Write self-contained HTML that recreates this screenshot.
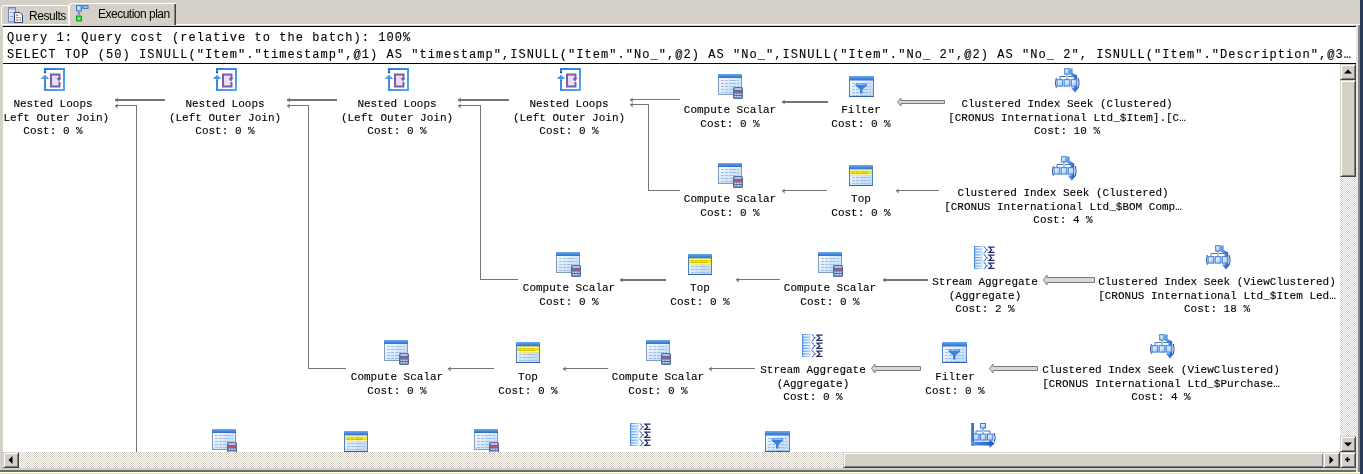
<!DOCTYPE html><html><head><meta charset="utf-8"><style>
html,body{margin:0;padding:0;}body{width:1363px;height:474px;overflow:hidden;position:relative;background:#D4D0C8;font-family:"Liberation Mono",monospace;}
.lbl{position:absolute;width:400px;text-align:center;font-family:"Liberation Mono",monospace;font-size:11.0px;line-height:13.5px;letter-spacing:0.0px;color:#000;white-space:pre;will-change:transform;-webkit-text-stroke:0.12px #000;}
.btn{position:absolute;background:#D4D0C8;box-sizing:border-box;border-top:1px solid #D4D0C8;border-left:1px solid #D4D0C8;border-right:1px solid #404040;border-bottom:1px solid #404040;box-shadow:inset 1px 1px 0 #fff, inset -1px -1px 0 #808080;}
.trk{position:absolute;background-color:#fff;background-image:repeating-conic-gradient(#D4D0C8 0 25%, #ffffff 0 50%);background-size:2px 2px;}
</style></head><body>
<svg width="0" height="0" style="position:absolute">
<defs>
<linearGradient id="hdr" x1="0" y1="0" x2="0" y2="1"><stop offset="0" stop-color="#6aaaf0"/><stop offset="1" stop-color="#2c6cc8"/></linearGradient>
<linearGradient id="tbody" x1="0" y1="0" x2="1" y2="1"><stop offset="0" stop-color="#ffffff"/><stop offset="1" stop-color="#b8d4f4"/></linearGradient>
<linearGradient id="blu" x1="0" y1="0" x2="1" y2="0"><stop offset="0" stop-color="#7ab8f4"/><stop offset="1" stop-color="#2a64c4"/></linearGradient>
<linearGradient id="boxg" x1="0" y1="0" x2="1" y2="1"><stop offset="0" stop-color="#ffffff"/><stop offset="1" stop-color="#8ec0f0"/></linearGradient>
</defs></svg>
<div style="position:absolute;left:1360px;top:0px;width:3px;height:474px;background:#263a5c"></div>
<div style="position:absolute;left:0px;top:473px;width:1360px;height:1px;background:#f2e88c"></div>
<div style="position:absolute;left:0px;top:472px;width:1360px;height:1px;background:#ffffff"></div>
<div style="position:absolute;left:0px;top:470px;width:1360px;height:2px;background:#6e6c68"></div>
<div style="position:absolute;left:1358px;top:24px;width:2px;height:448px;background:#8a8884"></div>
<div style="position:absolute;left:1px;top:5px;width:68px;height:20px;box-sizing:border-box;border:1px solid #fff;border-top-left-radius:3px;background:#D4D0C8"></div>
<div style="position:absolute;left:69px;top:3px;width:107px;height:23px;box-sizing:border-box;border-left:1px solid #fff;border-top:1px solid #fff;border-top-left-radius:3px;background:#D4D0C8"></div>
<div style="position:absolute;left:175px;top:4px;width:1px;height:21px;background:#404040"></div>
<div style="position:absolute;left:174px;top:4px;width:1px;height:21px;background:#808080"></div>
<div style="position:absolute;left:176px;top:24px;width:1184px;height:1px;background:#fff"></div>
<div style="position:absolute;left:29px;top:8px;font-family:'Liberation Sans',sans-serif;font-size:12px;letter-spacing:-0.45px;line-height:16px;color:#000;will-change:transform">Results</div>
<div style="position:absolute;left:98px;top:6px;font-family:'Liberation Sans',sans-serif;font-size:12px;letter-spacing:-0.5px;line-height:16px;color:#000;will-change:transform">Execution plan</div>
<svg style="position:absolute;left:8px;top:7px;overflow:visible" width="16" height="16" viewBox="0 0 16 16"><defs><linearGradient id="tw" x1="0" y1="0" x2="1" y2="1"><stop offset="0" stop-color="#ffffff"/><stop offset="1" stop-color="#9cc4ec"/></linearGradient></defs><rect x="0.5" y="0.5" width="7" height="14.5" fill="url(#tw)" stroke="#7a88b8"/><rect x="1" y="1" width="6" height="2" fill="#a8b8d8"/><rect x="1.5" y="5" width="5" height="1" fill="#a0b0d0"/><rect x="1.5" y="9" width="5" height="1" fill="#a0b0d0"/><path d="M6.5 5.5 H12 L14.5 8 V15.5 H6.5Z" fill="#ffffff" stroke="#3a3a80"/><rect x="8" y="7.5" width="2.5" height="1.2" fill="#f05a28"/><rect x="8" y="10" width="2.5" height="1.2" fill="#f05a28"/><rect x="8" y="12.5" width="2.5" height="1.2" fill="#f05a28"/><rect x="11.5" y="10" width="1.5" height="1.2" fill="#3aa03a"/><rect x="11.5" y="12.5" width="1.5" height="1.2" fill="#3aa03a"/></svg>
<svg style="position:absolute;left:76px;top:5px;overflow:visible" width="16" height="16" viewBox="0 0 16 16"><rect x="0.5" y="0.5" width="5" height="5.5" fill="#8cc0f8" stroke="#3a7ad8"/><rect x="1.5" y="1.5" width="2" height="3" fill="#d8ecff"/><rect x="7" y="0.5" width="5" height="3" fill="#8cc0f8" stroke="#3a7ad8"/><path d="M5.8 1.8 H7 M6.2 1 L5.8 1.8 L6.2 2.6" stroke="#2a9a9a" stroke-width="0.8" fill="none"/><path d="M3 7.5 V10.5 M2 8.5 L3 7.3 L4 8.5" stroke="#6a5aa8" stroke-width="1" fill="none"/><rect x="0.5" y="11" width="5" height="5" fill="#30d030" stroke="#18a018"/><rect x="1.8" y="12.3" width="2.4" height="2.4" fill="#90f090"/></svg>
<div style="position:absolute;left:3px;top:26px;width:1353px;height:1px;background:#000"></div>
<div style="position:absolute;left:3px;top:27px;width:1353px;height:36px;background:#fff"></div>
<div style="position:absolute;left:3px;top:63px;width:1353px;height:1px;background:#000"></div>
<div style="position:absolute;left:3px;top:64px;width:1337px;height:388px;background:#fff;overflow:hidden"></div>
<div style="position:absolute;left:1356px;top:26px;width:2px;height:446px;background:#e8e6e2"></div>
<div style="position:absolute;left:7px;top:30px;font-family:'Liberation Mono',monospace;font-size:12px;line-height:17px;letter-spacing:1.05px;color:#000;white-space:pre;will-change:transform;-webkit-text-stroke:0.12px #000">Query 1: Query cost (relative to the batch): 100%
SELECT TOP (50) ISNULL("Item"."timestamp",@1) AS "timestamp",ISNULL("Item"."No_",@2) AS "No_",ISNULL("Item"."No_ 2",@2) AS "No_ 2", ISNULL("Item"."Description",@3…</div>
<div style="position:absolute;left:3px;top:64px;width:1337px;height:388px;overflow:hidden;background:#fff"><div style="position:absolute;left:-3px;top:-64px;width:1363px;height:474px">
<div style="position:absolute;left:115px;top:99px;width:50px;height:2px;background:#767276"></div>
<svg style="position:absolute;left:114px;top:96.0px" width="6" height="8" viewBox="0 0 6 8"><path d="M1 4 L3.6 1.6 L3.6 6.4Z" fill="#767276"/></svg>
<div style="position:absolute;left:115px;top:105px;width:22px;height:1px;background:#767276"></div>
<svg style="position:absolute;left:114px;top:101.5px" width="6" height="8" viewBox="0 0 6 8"><path d="M1 4 L3.6 1.6 L3.6 6.4Z" fill="#767276"/></svg>
<div style="position:absolute;left:136px;top:105px;width:1px;height:347px;background:#767276"></div>
<div style="position:absolute;left:287px;top:99px;width:50px;height:2px;background:#767276"></div>
<svg style="position:absolute;left:286px;top:96.0px" width="6" height="8" viewBox="0 0 6 8"><path d="M1 4 L3.6 1.6 L3.6 6.4Z" fill="#767276"/></svg>
<div style="position:absolute;left:287px;top:105px;width:22px;height:1px;background:#767276"></div>
<svg style="position:absolute;left:286px;top:101.5px" width="6" height="8" viewBox="0 0 6 8"><path d="M1 4 L3.6 1.6 L3.6 6.4Z" fill="#767276"/></svg>
<div style="position:absolute;left:308px;top:105px;width:1px;height:264px;background:#767276"></div>
<div style="position:absolute;left:308px;top:368px;width:38px;height:1px;background:#767276"></div>
<div style="position:absolute;left:458px;top:99px;width:51px;height:2px;background:#767276"></div>
<svg style="position:absolute;left:457px;top:96.0px" width="6" height="8" viewBox="0 0 6 8"><path d="M1 4 L3.6 1.6 L3.6 6.4Z" fill="#767276"/></svg>
<div style="position:absolute;left:458px;top:105px;width:23px;height:1px;background:#767276"></div>
<svg style="position:absolute;left:457px;top:101.5px" width="6" height="8" viewBox="0 0 6 8"><path d="M1 4 L3.6 1.6 L3.6 6.4Z" fill="#767276"/></svg>
<div style="position:absolute;left:480px;top:105px;width:1px;height:175px;background:#767276"></div>
<div style="position:absolute;left:480px;top:279px;width:38px;height:1px;background:#767276"></div>
<div style="position:absolute;left:630px;top:99px;width:50px;height:1px;background:#767276"></div>
<svg style="position:absolute;left:629px;top:95.5px" width="6" height="8" viewBox="0 0 6 8"><path d="M1 4 L3.6 1.6 L3.6 6.4Z" fill="#767276"/></svg>
<div style="position:absolute;left:630px;top:104px;width:19px;height:1px;background:#767276"></div>
<svg style="position:absolute;left:629px;top:100.5px" width="6" height="8" viewBox="0 0 6 8"><path d="M1 4 L3.6 1.6 L3.6 6.4Z" fill="#767276"/></svg>
<div style="position:absolute;left:648px;top:104px;width:1px;height:87px;background:#767276"></div>
<div style="position:absolute;left:648px;top:190px;width:32px;height:1px;background:#767276"></div>
<div style="position:absolute;left:782px;top:101px;width:46px;height:2px;background:#767276"></div>
<svg style="position:absolute;left:781px;top:98.0px" width="6" height="8" viewBox="0 0 6 8"><path d="M1 4 L3.6 1.6 L3.6 6.4Z" fill="#767276"/></svg>
<svg style="position:absolute;left:0;top:0;overflow:visible" width="1" height="1"><path d="M897 101.5 L900.5 97.5 L900.5 100 L944 100 L944 103 L900.5 103 L900.5 105.5 Z" transform="translate(0.5,0.5)" fill="#dcd6d2" stroke="#7a7a7a" stroke-width="1"/></svg>
<div style="position:absolute;left:782px;top:190px;width:45px;height:1px;background:#767276"></div>
<svg style="position:absolute;left:781px;top:186.5px" width="6" height="8" viewBox="0 0 6 8"><path d="M1 4 L3.6 1.6 L3.6 6.4Z" fill="#767276"/></svg>
<div style="position:absolute;left:896px;top:190px;width:43px;height:1px;background:#767276"></div>
<svg style="position:absolute;left:895px;top:186.5px" width="6" height="8" viewBox="0 0 6 8"><path d="M1 4 L3.6 1.6 L3.6 6.4Z" fill="#767276"/></svg>
<div style="position:absolute;left:620px;top:279px;width:46px;height:2px;background:#767276"></div>
<svg style="position:absolute;left:619px;top:276.0px" width="6" height="8" viewBox="0 0 6 8"><path d="M1 4 L3.6 1.6 L3.6 6.4Z" fill="#767276"/></svg>
<div style="position:absolute;left:736px;top:279px;width:44px;height:1px;background:#767276"></div>
<svg style="position:absolute;left:735px;top:275.5px" width="6" height="8" viewBox="0 0 6 8"><path d="M1 4 L3.6 1.6 L3.6 6.4Z" fill="#767276"/></svg>
<div style="position:absolute;left:883px;top:279px;width:45px;height:2px;background:#767276"></div>
<svg style="position:absolute;left:882px;top:276.0px" width="6" height="8" viewBox="0 0 6 8"><path d="M1 4 L3.6 1.6 L3.6 6.4Z" fill="#767276"/></svg>
<svg style="position:absolute;left:0;top:0;overflow:visible" width="1" height="1"><path d="M1043 279.5 L1046.5 274.5 L1046.5 277 L1094 277 L1094 282 L1046.5 282 L1046.5 284.5 Z" transform="translate(0.5,0.5)" fill="#dcd6d2" stroke="#7a7a7a" stroke-width="1"/></svg>
<div style="position:absolute;left:448px;top:368px;width:46px;height:1px;background:#767276"></div>
<svg style="position:absolute;left:447px;top:364.5px" width="6" height="8" viewBox="0 0 6 8"><path d="M1 4 L3.6 1.6 L3.6 6.4Z" fill="#767276"/></svg>
<div style="position:absolute;left:563px;top:368px;width:45px;height:1px;background:#767276"></div>
<svg style="position:absolute;left:562px;top:364.5px" width="6" height="8" viewBox="0 0 6 8"><path d="M1 4 L3.6 1.6 L3.6 6.4Z" fill="#767276"/></svg>
<div style="position:absolute;left:709px;top:368px;width:46px;height:1px;background:#767276"></div>
<svg style="position:absolute;left:708px;top:364.5px" width="6" height="8" viewBox="0 0 6 8"><path d="M1 4 L3.6 1.6 L3.6 6.4Z" fill="#767276"/></svg>
<svg style="position:absolute;left:0;top:0;overflow:visible" width="1" height="1"><path d="M871 368.0 L874.5 363.5 L874.5 366 L920 366 L920 370 L874.5 370 L874.5 372.5 Z" transform="translate(0.5,0.5)" fill="#dcd6d2" stroke="#7a7a7a" stroke-width="1"/></svg>
<svg style="position:absolute;left:0;top:0;overflow:visible" width="1" height="1"><path d="M989 368.0 L992.5 363.5 L992.5 366 L1037 366 L1037 370 L992.5 370 L992.5 372.5 Z" transform="translate(0.5,0.5)" fill="#dcd6d2" stroke="#7a7a7a" stroke-width="1"/></svg>
<svg style="position:absolute;left:41px;top:68px;overflow:visible" width="24" height="23" viewBox="0 0 24 23"><defs><linearGradient id="nlb" x1="0" y1="0" x2="1" y2="1"><stop offset="0" stop-color="#2a7ae0"/><stop offset="1" stop-color="#5aa8f0"/></linearGradient></defs><path d="M4 4.8 V1 H23 V22 H4 V10" fill="none" stroke="url(#nlb)" stroke-width="2"/><rect x="3" y="3.8" width="2" height="1.4" fill="#1a4ca0"/><path d="M-0.3 11 L4 6.8 L8.3 11 H5 V12 H3 V11 Z" fill="#4a9aec"/><path d="M18.5 10 V6.5 H10 V18.5 H18.5 V14" fill="#e0d8f0" stroke="#7a5ea8" stroke-width="2"/><rect x="11.5" y="8" width="5.5" height="9" fill="#e8e0f4"/><path d="M15.5 10 H20.5 L18 13.5 Z" fill="#7a5ea8"/></svg>
<div class="lbl" style="left:-147px;top:98.0px">Nested Loops<br>(Left Outer Join)<br>Cost: 0 %</div>
<svg style="position:absolute;left:213px;top:68px;overflow:visible" width="24" height="23" viewBox="0 0 24 23"><defs><linearGradient id="nlb" x1="0" y1="0" x2="1" y2="1"><stop offset="0" stop-color="#2a7ae0"/><stop offset="1" stop-color="#5aa8f0"/></linearGradient></defs><path d="M4 4.8 V1 H23 V22 H4 V10" fill="none" stroke="url(#nlb)" stroke-width="2"/><rect x="3" y="3.8" width="2" height="1.4" fill="#1a4ca0"/><path d="M-0.3 11 L4 6.8 L8.3 11 H5 V12 H3 V11 Z" fill="#4a9aec"/><path d="M18.5 10 V6.5 H10 V18.5 H18.5 V14" fill="#e0d8f0" stroke="#7a5ea8" stroke-width="2"/><rect x="11.5" y="8" width="5.5" height="9" fill="#e8e0f4"/><path d="M15.5 10 H20.5 L18 13.5 Z" fill="#7a5ea8"/></svg>
<div class="lbl" style="left:25px;top:98.0px">Nested Loops<br>(Left Outer Join)<br>Cost: 0 %</div>
<svg style="position:absolute;left:385px;top:68px;overflow:visible" width="24" height="23" viewBox="0 0 24 23"><defs><linearGradient id="nlb" x1="0" y1="0" x2="1" y2="1"><stop offset="0" stop-color="#2a7ae0"/><stop offset="1" stop-color="#5aa8f0"/></linearGradient></defs><path d="M4 4.8 V1 H23 V22 H4 V10" fill="none" stroke="url(#nlb)" stroke-width="2"/><rect x="3" y="3.8" width="2" height="1.4" fill="#1a4ca0"/><path d="M-0.3 11 L4 6.8 L8.3 11 H5 V12 H3 V11 Z" fill="#4a9aec"/><path d="M18.5 10 V6.5 H10 V18.5 H18.5 V14" fill="#e0d8f0" stroke="#7a5ea8" stroke-width="2"/><rect x="11.5" y="8" width="5.5" height="9" fill="#e8e0f4"/><path d="M15.5 10 H20.5 L18 13.5 Z" fill="#7a5ea8"/></svg>
<div class="lbl" style="left:197px;top:98.0px">Nested Loops<br>(Left Outer Join)<br>Cost: 0 %</div>
<svg style="position:absolute;left:557px;top:68px;overflow:visible" width="24" height="23" viewBox="0 0 24 23"><defs><linearGradient id="nlb" x1="0" y1="0" x2="1" y2="1"><stop offset="0" stop-color="#2a7ae0"/><stop offset="1" stop-color="#5aa8f0"/></linearGradient></defs><path d="M4 4.8 V1 H23 V22 H4 V10" fill="none" stroke="url(#nlb)" stroke-width="2"/><rect x="3" y="3.8" width="2" height="1.4" fill="#1a4ca0"/><path d="M-0.3 11 L4 6.8 L8.3 11 H5 V12 H3 V11 Z" fill="#4a9aec"/><path d="M18.5 10 V6.5 H10 V18.5 H18.5 V14" fill="#e0d8f0" stroke="#7a5ea8" stroke-width="2"/><rect x="11.5" y="8" width="5.5" height="9" fill="#e8e0f4"/><path d="M15.5 10 H20.5 L18 13.5 Z" fill="#7a5ea8"/></svg>
<div class="lbl" style="left:369px;top:98.0px">Nested Loops<br>(Left Outer Join)<br>Cost: 0 %</div>
<svg style="position:absolute;left:718px;top:74px;overflow:visible" width="25" height="25" viewBox="0 0 25 25"><rect x="0.5" y="0.5" width="23" height="20" fill="url(#tbody)" stroke="#7d9cc4"/><rect x="0" y="0" width="24" height="4" fill="url(#hdr)"/><rect x="3" y="6" width="3" height="1" fill="#9cc0ec"/><rect x="7" y="6" width="3" height="1" fill="#9cc0ec"/><rect x="11" y="6" width="7" height="1" fill="#9cc0ec"/><rect x="19" y="6" width="2" height="1" fill="#9cc0ec"/><rect x="3" y="9" width="3" height="1" fill="#9cc0ec"/><rect x="7" y="9" width="3" height="1" fill="#9cc0ec"/><rect x="11" y="9" width="7" height="1" fill="#9cc0ec"/><rect x="19" y="9" width="2" height="1" fill="#9cc0ec"/><rect x="3" y="12" width="3" height="1" fill="#9cc0ec"/><rect x="7" y="12" width="3" height="1" fill="#9cc0ec"/><rect x="11" y="12" width="7" height="1" fill="#9cc0ec"/><rect x="19" y="12" width="2" height="1" fill="#9cc0ec"/><rect x="3" y="15" width="3" height="1" fill="#9cc0ec"/><rect x="7" y="15" width="3" height="1" fill="#9cc0ec"/><rect x="11" y="15" width="7" height="1" fill="#9cc0ec"/><rect x="19" y="15" width="2" height="1" fill="#9cc0ec"/><rect x="3" y="18" width="3" height="1" fill="#9cc0ec"/><rect x="7" y="18" width="3" height="1" fill="#9cc0ec"/><rect x="11" y="18" width="7" height="1" fill="#9cc0ec"/><rect x="19" y="18" width="2" height="1" fill="#9cc0ec"/><rect x="15" y="13" width="10" height="12" rx="1.5" fill="#5a6c9c"/><rect x="16.5" y="14" width="7" height="2" fill="#a8c4f0"/><rect x="16.5" y="17" width="2" height="1.5" fill="#e84848"/><rect x="19" y="17" width="2" height="1.5" fill="#e84848"/><rect x="21.5" y="17" width="2" height="1.5" fill="#e84848"/><rect x="16.5" y="19.5" width="2" height="1.5" fill="#b8d0f8"/><rect x="19" y="19.5" width="2" height="1.5" fill="#b8d0f8"/><rect x="21.5" y="19.5" width="2" height="1.5" fill="#b8d0f8"/><rect x="16.5" y="22" width="2" height="1.5" fill="#b8d0f8"/><rect x="19" y="22" width="2" height="1.5" fill="#b8d0f8"/><rect x="21.5" y="22" width="2" height="1.5" fill="#b8d0f8"/></svg>
<div class="lbl" style="left:530px;top:104.0px">Compute Scalar<br>Cost: 0 %</div>
<svg style="position:absolute;left:849px;top:75.5px;overflow:visible" width="25" height="21" viewBox="0 0 25 21"><rect x="0.5" y="0.5" width="24" height="20" fill="url(#tbody)" stroke="#4f80c0"/><rect x="0" y="0" width="25" height="4.5" fill="url(#hdr)"/><rect x="3" y="7" width="3" height="1" fill="#9cc0ec"/><rect x="7" y="7" width="3" height="1" fill="#9cc0ec"/><rect x="11" y="7" width="8" height="1" fill="#9cc0ec"/><rect x="20" y="7" width="2" height="1" fill="#9cc0ec"/><rect x="3" y="10" width="3" height="1" fill="#9cc0ec"/><rect x="7" y="10" width="3" height="1" fill="#9cc0ec"/><rect x="11" y="10" width="8" height="1" fill="#9cc0ec"/><rect x="20" y="10" width="2" height="1" fill="#9cc0ec"/><rect x="3" y="13" width="3" height="1" fill="#9cc0ec"/><rect x="7" y="13" width="3" height="1" fill="#9cc0ec"/><rect x="11" y="13" width="8" height="1" fill="#9cc0ec"/><rect x="20" y="13" width="2" height="1" fill="#9cc0ec"/><rect x="3" y="16" width="3" height="1" fill="#9cc0ec"/><rect x="7" y="16" width="3" height="1" fill="#9cc0ec"/><rect x="11" y="16" width="8" height="1" fill="#9cc0ec"/><rect x="20" y="16" width="2" height="1" fill="#9cc0ec"/><rect x="3" y="19" width="3" height="1" fill="#9cc0ec"/><rect x="7" y="19" width="3" height="1" fill="#9cc0ec"/><rect x="11" y="19" width="8" height="1" fill="#9cc0ec"/><rect x="20" y="19" width="2" height="1" fill="#9cc0ec"/><rect x="0" y="20" width="25" height="1" fill="#2f60a8"/><path d="M6.5 7.5 H18 V9.5 L13.5 13.5 V17.5 H11 V13.5 L6.5 9.5 Z" fill="#3c80d8"/><path d="M7.5 8 H17 V9 H7.5Z" fill="#8cc0f4"/></svg>
<div class="lbl" style="left:661px;top:104.0px">Filter<br>Cost: 0 %</div>
<svg style="position:absolute;left:1054px;top:67.5px;overflow:visible" width="26" height="25" viewBox="0 0 26 25"><defs><linearGradient id="arw" x1="0" y1="0" x2="1" y2="0"><stop offset="0" stop-color="#6aa6f4"/><stop offset="1" stop-color="#1c4cb8"/></linearGradient></defs><path d="M15.6 0.5 L18.6 0.5 L18.6 5 L23.2 7.5 L23.2 19.6 L25 19.6 L20.9 24.4 L16.8 19.6 L20.4 19.6 L20.4 9 L15.6 6.6 Z" fill="url(#arw)"/><rect x="10.7" y="0.7" width="4.4" height="5.3" fill="url(#boxg)" stroke="#3a78d8" stroke-width="1"/><path d="M12.8 6 V8.5 M6 11.7 V8.5 H20 V11.7 M13 8.5 V11.7" fill="none" stroke="#3a78d8" stroke-width="1"/><rect x="12" y="7.7" width="2" height="1.6" fill="#d8e040"/><rect x="3.1" y="11.7" width="5.7" height="6.4" fill="url(#boxg)" stroke="#3a78d8" stroke-width="1"/><rect x="10.2" y="11.7" width="5.7" height="6.4" fill="url(#boxg)" stroke="#3a78d8" stroke-width="1"/><rect x="17.3" y="11.7" width="5.4" height="6.4" fill="url(#boxg)" stroke="#3a78d8" stroke-width="1"/><path d="M2.3 10 Q0.6 15 2.3 19.8" fill="none" stroke="#2a4aa0" stroke-width="1"/><path d="M24.3 10 Q26 15 24.3 19.8" fill="none" stroke="#2a4aa0" stroke-width="1"/></svg>
<div class="lbl" style="left:866.5px;top:98.0px">Clustered Index Seek (Clustered)<br>[CRONUS International Ltd_$Item].[C…<br>Cost: 10 %</div>
<svg style="position:absolute;left:718px;top:162.5px;overflow:visible" width="25" height="25" viewBox="0 0 25 25"><rect x="0.5" y="0.5" width="23" height="20" fill="url(#tbody)" stroke="#7d9cc4"/><rect x="0" y="0" width="24" height="4" fill="url(#hdr)"/><rect x="3" y="6" width="3" height="1" fill="#9cc0ec"/><rect x="7" y="6" width="3" height="1" fill="#9cc0ec"/><rect x="11" y="6" width="7" height="1" fill="#9cc0ec"/><rect x="19" y="6" width="2" height="1" fill="#9cc0ec"/><rect x="3" y="9" width="3" height="1" fill="#9cc0ec"/><rect x="7" y="9" width="3" height="1" fill="#9cc0ec"/><rect x="11" y="9" width="7" height="1" fill="#9cc0ec"/><rect x="19" y="9" width="2" height="1" fill="#9cc0ec"/><rect x="3" y="12" width="3" height="1" fill="#9cc0ec"/><rect x="7" y="12" width="3" height="1" fill="#9cc0ec"/><rect x="11" y="12" width="7" height="1" fill="#9cc0ec"/><rect x="19" y="12" width="2" height="1" fill="#9cc0ec"/><rect x="3" y="15" width="3" height="1" fill="#9cc0ec"/><rect x="7" y="15" width="3" height="1" fill="#9cc0ec"/><rect x="11" y="15" width="7" height="1" fill="#9cc0ec"/><rect x="19" y="15" width="2" height="1" fill="#9cc0ec"/><rect x="3" y="18" width="3" height="1" fill="#9cc0ec"/><rect x="7" y="18" width="3" height="1" fill="#9cc0ec"/><rect x="11" y="18" width="7" height="1" fill="#9cc0ec"/><rect x="19" y="18" width="2" height="1" fill="#9cc0ec"/><rect x="15" y="13" width="10" height="12" rx="1.5" fill="#5a6c9c"/><rect x="16.5" y="14" width="7" height="2" fill="#a8c4f0"/><rect x="16.5" y="17" width="2" height="1.5" fill="#e84848"/><rect x="19" y="17" width="2" height="1.5" fill="#e84848"/><rect x="21.5" y="17" width="2" height="1.5" fill="#e84848"/><rect x="16.5" y="19.5" width="2" height="1.5" fill="#b8d0f8"/><rect x="19" y="19.5" width="2" height="1.5" fill="#b8d0f8"/><rect x="21.5" y="19.5" width="2" height="1.5" fill="#b8d0f8"/><rect x="16.5" y="22" width="2" height="1.5" fill="#b8d0f8"/><rect x="19" y="22" width="2" height="1.5" fill="#b8d0f8"/><rect x="21.5" y="22" width="2" height="1.5" fill="#b8d0f8"/></svg>
<div class="lbl" style="left:530px;top:192.5px">Compute Scalar<br>Cost: 0 %</div>
<svg style="position:absolute;left:849px;top:165px;overflow:visible" width="24" height="21" viewBox="0 0 24 21"><rect x="0.5" y="0.5" width="23" height="20" fill="url(#tbody)" stroke="#4f80c0"/><rect x="0" y="0" width="24" height="4.5" fill="url(#hdr)"/><rect x="1" y="4.5" width="22" height="6" fill="#eee41a"/><rect x="1" y="5" width="22" height="1" fill="#f8f4a8"/><rect x="1" y="9" width="22" height="1" fill="#f8f4a8"/><rect x="3" y="6" width="3" height="1" fill="#d8c800"/><rect x="7" y="6" width="3" height="1" fill="#d8c800"/><rect x="11" y="6" width="8" height="1" fill="#d8c800"/><rect x="3" y="8" width="3" height="1" fill="#c8b800"/><rect x="7" y="8" width="3" height="1" fill="#c8b800"/><rect x="11" y="8" width="8" height="1" fill="#c8b800"/><rect x="3" y="12" width="3" height="1" fill="#9cc0ec"/><rect x="7" y="12" width="3" height="1" fill="#9cc0ec"/><rect x="11" y="12" width="7" height="1" fill="#9cc0ec"/><rect x="19" y="12" width="2" height="1" fill="#9cc0ec"/><rect x="3" y="15" width="3" height="1" fill="#9cc0ec"/><rect x="7" y="15" width="3" height="1" fill="#9cc0ec"/><rect x="11" y="15" width="7" height="1" fill="#9cc0ec"/><rect x="19" y="15" width="2" height="1" fill="#9cc0ec"/><rect x="3" y="18" width="3" height="1" fill="#9cc0ec"/><rect x="7" y="18" width="3" height="1" fill="#9cc0ec"/><rect x="11" y="18" width="7" height="1" fill="#9cc0ec"/><rect x="19" y="18" width="2" height="1" fill="#9cc0ec"/><rect x="0" y="20" width="24" height="1" fill="#2f60a8"/></svg>
<div class="lbl" style="left:661px;top:192.5px">Top<br>Cost: 0 %</div>
<svg style="position:absolute;left:1050.5px;top:155.5px;overflow:visible" width="26" height="25" viewBox="0 0 26 25"><defs><linearGradient id="arw" x1="0" y1="0" x2="1" y2="0"><stop offset="0" stop-color="#6aa6f4"/><stop offset="1" stop-color="#1c4cb8"/></linearGradient></defs><path d="M15.6 0.5 L18.6 0.5 L18.6 5 L23.2 7.5 L23.2 19.6 L25 19.6 L20.9 24.4 L16.8 19.6 L20.4 19.6 L20.4 9 L15.6 6.6 Z" fill="url(#arw)"/><rect x="10.7" y="0.7" width="4.4" height="5.3" fill="url(#boxg)" stroke="#3a78d8" stroke-width="1"/><path d="M12.8 6 V8.5 M6 11.7 V8.5 H20 V11.7 M13 8.5 V11.7" fill="none" stroke="#3a78d8" stroke-width="1"/><rect x="12" y="7.7" width="2" height="1.6" fill="#d8e040"/><rect x="3.1" y="11.7" width="5.7" height="6.4" fill="url(#boxg)" stroke="#3a78d8" stroke-width="1"/><rect x="10.2" y="11.7" width="5.7" height="6.4" fill="url(#boxg)" stroke="#3a78d8" stroke-width="1"/><rect x="17.3" y="11.7" width="5.4" height="6.4" fill="url(#boxg)" stroke="#3a78d8" stroke-width="1"/><path d="M2.3 10 Q0.6 15 2.3 19.8" fill="none" stroke="#2a4aa0" stroke-width="1"/><path d="M24.3 10 Q26 15 24.3 19.8" fill="none" stroke="#2a4aa0" stroke-width="1"/></svg>
<div class="lbl" style="left:862.5px;top:186.5px">Clustered Index Seek (Clustered)<br>[CRONUS International Ltd_$BOM Comp…<br>Cost: 4 %</div>
<svg style="position:absolute;left:556px;top:251.8px;overflow:visible" width="25" height="25" viewBox="0 0 25 25"><rect x="0.5" y="0.5" width="23" height="20" fill="url(#tbody)" stroke="#7d9cc4"/><rect x="0" y="0" width="24" height="4" fill="url(#hdr)"/><rect x="3" y="6" width="3" height="1" fill="#9cc0ec"/><rect x="7" y="6" width="3" height="1" fill="#9cc0ec"/><rect x="11" y="6" width="7" height="1" fill="#9cc0ec"/><rect x="19" y="6" width="2" height="1" fill="#9cc0ec"/><rect x="3" y="9" width="3" height="1" fill="#9cc0ec"/><rect x="7" y="9" width="3" height="1" fill="#9cc0ec"/><rect x="11" y="9" width="7" height="1" fill="#9cc0ec"/><rect x="19" y="9" width="2" height="1" fill="#9cc0ec"/><rect x="3" y="12" width="3" height="1" fill="#9cc0ec"/><rect x="7" y="12" width="3" height="1" fill="#9cc0ec"/><rect x="11" y="12" width="7" height="1" fill="#9cc0ec"/><rect x="19" y="12" width="2" height="1" fill="#9cc0ec"/><rect x="3" y="15" width="3" height="1" fill="#9cc0ec"/><rect x="7" y="15" width="3" height="1" fill="#9cc0ec"/><rect x="11" y="15" width="7" height="1" fill="#9cc0ec"/><rect x="19" y="15" width="2" height="1" fill="#9cc0ec"/><rect x="3" y="18" width="3" height="1" fill="#9cc0ec"/><rect x="7" y="18" width="3" height="1" fill="#9cc0ec"/><rect x="11" y="18" width="7" height="1" fill="#9cc0ec"/><rect x="19" y="18" width="2" height="1" fill="#9cc0ec"/><rect x="15" y="13" width="10" height="12" rx="1.5" fill="#5a6c9c"/><rect x="16.5" y="14" width="7" height="2" fill="#a8c4f0"/><rect x="16.5" y="17" width="2" height="1.5" fill="#e84848"/><rect x="19" y="17" width="2" height="1.5" fill="#e84848"/><rect x="21.5" y="17" width="2" height="1.5" fill="#e84848"/><rect x="16.5" y="19.5" width="2" height="1.5" fill="#b8d0f8"/><rect x="19" y="19.5" width="2" height="1.5" fill="#b8d0f8"/><rect x="21.5" y="19.5" width="2" height="1.5" fill="#b8d0f8"/><rect x="16.5" y="22" width="2" height="1.5" fill="#b8d0f8"/><rect x="19" y="22" width="2" height="1.5" fill="#b8d0f8"/><rect x="21.5" y="22" width="2" height="1.5" fill="#b8d0f8"/></svg>
<div class="lbl" style="left:368.5px;top:282.0px">Compute Scalar<br>Cost: 0 %</div>
<svg style="position:absolute;left:688px;top:253.5px;overflow:visible" width="24" height="21" viewBox="0 0 24 21"><rect x="0.5" y="0.5" width="23" height="20" fill="url(#tbody)" stroke="#4f80c0"/><rect x="0" y="0" width="24" height="4.5" fill="url(#hdr)"/><rect x="1" y="4.5" width="22" height="6" fill="#eee41a"/><rect x="1" y="5" width="22" height="1" fill="#f8f4a8"/><rect x="1" y="9" width="22" height="1" fill="#f8f4a8"/><rect x="3" y="6" width="3" height="1" fill="#d8c800"/><rect x="7" y="6" width="3" height="1" fill="#d8c800"/><rect x="11" y="6" width="8" height="1" fill="#d8c800"/><rect x="3" y="8" width="3" height="1" fill="#c8b800"/><rect x="7" y="8" width="3" height="1" fill="#c8b800"/><rect x="11" y="8" width="8" height="1" fill="#c8b800"/><rect x="3" y="12" width="3" height="1" fill="#9cc0ec"/><rect x="7" y="12" width="3" height="1" fill="#9cc0ec"/><rect x="11" y="12" width="7" height="1" fill="#9cc0ec"/><rect x="19" y="12" width="2" height="1" fill="#9cc0ec"/><rect x="3" y="15" width="3" height="1" fill="#9cc0ec"/><rect x="7" y="15" width="3" height="1" fill="#9cc0ec"/><rect x="11" y="15" width="7" height="1" fill="#9cc0ec"/><rect x="19" y="15" width="2" height="1" fill="#9cc0ec"/><rect x="3" y="18" width="3" height="1" fill="#9cc0ec"/><rect x="7" y="18" width="3" height="1" fill="#9cc0ec"/><rect x="11" y="18" width="7" height="1" fill="#9cc0ec"/><rect x="19" y="18" width="2" height="1" fill="#9cc0ec"/><rect x="0" y="20" width="24" height="1" fill="#2f60a8"/></svg>
<div class="lbl" style="left:500px;top:282.0px">Top<br>Cost: 0 %</div>
<svg style="position:absolute;left:818px;top:251.8px;overflow:visible" width="25" height="25" viewBox="0 0 25 25"><rect x="0.5" y="0.5" width="23" height="20" fill="url(#tbody)" stroke="#7d9cc4"/><rect x="0" y="0" width="24" height="4" fill="url(#hdr)"/><rect x="3" y="6" width="3" height="1" fill="#9cc0ec"/><rect x="7" y="6" width="3" height="1" fill="#9cc0ec"/><rect x="11" y="6" width="7" height="1" fill="#9cc0ec"/><rect x="19" y="6" width="2" height="1" fill="#9cc0ec"/><rect x="3" y="9" width="3" height="1" fill="#9cc0ec"/><rect x="7" y="9" width="3" height="1" fill="#9cc0ec"/><rect x="11" y="9" width="7" height="1" fill="#9cc0ec"/><rect x="19" y="9" width="2" height="1" fill="#9cc0ec"/><rect x="3" y="12" width="3" height="1" fill="#9cc0ec"/><rect x="7" y="12" width="3" height="1" fill="#9cc0ec"/><rect x="11" y="12" width="7" height="1" fill="#9cc0ec"/><rect x="19" y="12" width="2" height="1" fill="#9cc0ec"/><rect x="3" y="15" width="3" height="1" fill="#9cc0ec"/><rect x="7" y="15" width="3" height="1" fill="#9cc0ec"/><rect x="11" y="15" width="7" height="1" fill="#9cc0ec"/><rect x="19" y="15" width="2" height="1" fill="#9cc0ec"/><rect x="3" y="18" width="3" height="1" fill="#9cc0ec"/><rect x="7" y="18" width="3" height="1" fill="#9cc0ec"/><rect x="11" y="18" width="7" height="1" fill="#9cc0ec"/><rect x="19" y="18" width="2" height="1" fill="#9cc0ec"/><rect x="15" y="13" width="10" height="12" rx="1.5" fill="#5a6c9c"/><rect x="16.5" y="14" width="7" height="2" fill="#a8c4f0"/><rect x="16.5" y="17" width="2" height="1.5" fill="#e84848"/><rect x="19" y="17" width="2" height="1.5" fill="#e84848"/><rect x="21.5" y="17" width="2" height="1.5" fill="#e84848"/><rect x="16.5" y="19.5" width="2" height="1.5" fill="#b8d0f8"/><rect x="19" y="19.5" width="2" height="1.5" fill="#b8d0f8"/><rect x="21.5" y="19.5" width="2" height="1.5" fill="#b8d0f8"/><rect x="16.5" y="22" width="2" height="1.5" fill="#b8d0f8"/><rect x="19" y="22" width="2" height="1.5" fill="#b8d0f8"/><rect x="21.5" y="22" width="2" height="1.5" fill="#b8d0f8"/></svg>
<div class="lbl" style="left:630px;top:282.0px">Compute Scalar<br>Cost: 0 %</div>
<svg style="position:absolute;left:974px;top:245.5px;overflow:visible" width="21" height="24" viewBox="0 0 21 24"><defs><linearGradient id="col" x1="0" y1="0" x2="1" y2="0"><stop offset="0" stop-color="#4a90e4"/><stop offset="1" stop-color="#a8d0f8"/></linearGradient></defs><rect x="0" y="0" width="8.4" height="23" fill="url(#col)"/><rect x="1.2" y="1.00" width="6.6" height="1.6" fill="#f4faff" opacity="0.9"/><rect x="1.2" y="3.80" width="6.6" height="1.6" fill="#f4faff" opacity="0.9"/><rect x="1.2" y="6.60" width="6.6" height="1.6" fill="#f4faff" opacity="0.9"/><rect x="1.2" y="9.40" width="6.6" height="1.6" fill="#f4faff" opacity="0.9"/><rect x="1.2" y="12.20" width="6.6" height="1.6" fill="#f4faff" opacity="0.9"/><rect x="1.2" y="15.00" width="6.6" height="1.6" fill="#f4faff" opacity="0.9"/><rect x="1.2" y="17.80" width="6.6" height="1.6" fill="#f4faff" opacity="0.9"/><rect x="1.2" y="20.60" width="6.6" height="1.6" fill="#f4faff" opacity="0.9"/><path d="M9.6 0.6 Q11.8 1.0 11.8 2.8 Q11.8 3.8 13.6 3.8 Q11.8 3.8 11.8 4.8 Q11.8 6.6 9.6 7.0" fill="none" stroke="#3a6ac0" stroke-width="1"/><path d="M20.5 1.2 H15 L17.8 3.9 L15 6.4 H20.5" fill="none" stroke="#1b2a6a" stroke-width="1.2"/><path d="M9.6 8.6 Q11.8 9.0 11.8 10.8 Q11.8 11.8 13.6 11.8 Q11.8 11.8 11.8 12.8 Q11.8 14.6 9.6 15.0" fill="none" stroke="#3a6ac0" stroke-width="1"/><path d="M20.5 9.2 H15 L17.8 11.9 L15 14.4 H20.5" fill="none" stroke="#1b2a6a" stroke-width="1.2"/><path d="M9.6 16.6 Q11.8 17.0 11.8 18.8 Q11.8 19.8 13.6 19.8 Q11.8 19.8 11.8 20.8 Q11.8 22.6 9.6 23.0" fill="none" stroke="#3a6ac0" stroke-width="1"/><path d="M20.5 17.2 H15 L17.8 19.9 L15 22.4 H20.5" fill="none" stroke="#1b2a6a" stroke-width="1.2"/></svg>
<div class="lbl" style="left:785px;top:275.5px">Stream Aggregate<br>(Aggregate)<br>Cost: 2 %</div>
<svg style="position:absolute;left:1205px;top:244.5px;overflow:visible" width="26" height="25" viewBox="0 0 26 25"><defs><linearGradient id="arw" x1="0" y1="0" x2="1" y2="0"><stop offset="0" stop-color="#6aa6f4"/><stop offset="1" stop-color="#1c4cb8"/></linearGradient></defs><path d="M15.6 0.5 L18.6 0.5 L18.6 5 L23.2 7.5 L23.2 19.6 L25 19.6 L20.9 24.4 L16.8 19.6 L20.4 19.6 L20.4 9 L15.6 6.6 Z" fill="url(#arw)"/><rect x="10.7" y="0.7" width="4.4" height="5.3" fill="url(#boxg)" stroke="#3a78d8" stroke-width="1"/><path d="M12.8 6 V8.5 M6 11.7 V8.5 H20 V11.7 M13 8.5 V11.7" fill="none" stroke="#3a78d8" stroke-width="1"/><rect x="12" y="7.7" width="2" height="1.6" fill="#d8e040"/><rect x="3.1" y="11.7" width="5.7" height="6.4" fill="url(#boxg)" stroke="#3a78d8" stroke-width="1"/><rect x="10.2" y="11.7" width="5.7" height="6.4" fill="url(#boxg)" stroke="#3a78d8" stroke-width="1"/><rect x="17.3" y="11.7" width="5.4" height="6.4" fill="url(#boxg)" stroke="#3a78d8" stroke-width="1"/><path d="M2.3 10 Q0.6 15 2.3 19.8" fill="none" stroke="#2a4aa0" stroke-width="1"/><path d="M24.3 10 Q26 15 24.3 19.8" fill="none" stroke="#2a4aa0" stroke-width="1"/></svg>
<div class="lbl" style="left:1017px;top:275.5px">Clustered Index Seek (ViewClustered)<br>[CRONUS International Ltd_$Item Led…<br>Cost: 18 %</div>
<svg style="position:absolute;left:384px;top:340px;overflow:visible" width="25" height="25" viewBox="0 0 25 25"><rect x="0.5" y="0.5" width="23" height="20" fill="url(#tbody)" stroke="#7d9cc4"/><rect x="0" y="0" width="24" height="4" fill="url(#hdr)"/><rect x="3" y="6" width="3" height="1" fill="#9cc0ec"/><rect x="7" y="6" width="3" height="1" fill="#9cc0ec"/><rect x="11" y="6" width="7" height="1" fill="#9cc0ec"/><rect x="19" y="6" width="2" height="1" fill="#9cc0ec"/><rect x="3" y="9" width="3" height="1" fill="#9cc0ec"/><rect x="7" y="9" width="3" height="1" fill="#9cc0ec"/><rect x="11" y="9" width="7" height="1" fill="#9cc0ec"/><rect x="19" y="9" width="2" height="1" fill="#9cc0ec"/><rect x="3" y="12" width="3" height="1" fill="#9cc0ec"/><rect x="7" y="12" width="3" height="1" fill="#9cc0ec"/><rect x="11" y="12" width="7" height="1" fill="#9cc0ec"/><rect x="19" y="12" width="2" height="1" fill="#9cc0ec"/><rect x="3" y="15" width="3" height="1" fill="#9cc0ec"/><rect x="7" y="15" width="3" height="1" fill="#9cc0ec"/><rect x="11" y="15" width="7" height="1" fill="#9cc0ec"/><rect x="19" y="15" width="2" height="1" fill="#9cc0ec"/><rect x="3" y="18" width="3" height="1" fill="#9cc0ec"/><rect x="7" y="18" width="3" height="1" fill="#9cc0ec"/><rect x="11" y="18" width="7" height="1" fill="#9cc0ec"/><rect x="19" y="18" width="2" height="1" fill="#9cc0ec"/><rect x="15" y="13" width="10" height="12" rx="1.5" fill="#5a6c9c"/><rect x="16.5" y="14" width="7" height="2" fill="#a8c4f0"/><rect x="16.5" y="17" width="2" height="1.5" fill="#e84848"/><rect x="19" y="17" width="2" height="1.5" fill="#e84848"/><rect x="21.5" y="17" width="2" height="1.5" fill="#e84848"/><rect x="16.5" y="19.5" width="2" height="1.5" fill="#b8d0f8"/><rect x="19" y="19.5" width="2" height="1.5" fill="#b8d0f8"/><rect x="21.5" y="19.5" width="2" height="1.5" fill="#b8d0f8"/><rect x="16.5" y="22" width="2" height="1.5" fill="#b8d0f8"/><rect x="19" y="22" width="2" height="1.5" fill="#b8d0f8"/><rect x="21.5" y="22" width="2" height="1.5" fill="#b8d0f8"/></svg>
<div class="lbl" style="left:196.5px;top:371.0px">Compute Scalar<br>Cost: 0 %</div>
<svg style="position:absolute;left:516px;top:342.3px;overflow:visible" width="24" height="21" viewBox="0 0 24 21"><rect x="0.5" y="0.5" width="23" height="20" fill="url(#tbody)" stroke="#4f80c0"/><rect x="0" y="0" width="24" height="4.5" fill="url(#hdr)"/><rect x="1" y="4.5" width="22" height="6" fill="#eee41a"/><rect x="1" y="5" width="22" height="1" fill="#f8f4a8"/><rect x="1" y="9" width="22" height="1" fill="#f8f4a8"/><rect x="3" y="6" width="3" height="1" fill="#d8c800"/><rect x="7" y="6" width="3" height="1" fill="#d8c800"/><rect x="11" y="6" width="8" height="1" fill="#d8c800"/><rect x="3" y="8" width="3" height="1" fill="#c8b800"/><rect x="7" y="8" width="3" height="1" fill="#c8b800"/><rect x="11" y="8" width="8" height="1" fill="#c8b800"/><rect x="3" y="12" width="3" height="1" fill="#9cc0ec"/><rect x="7" y="12" width="3" height="1" fill="#9cc0ec"/><rect x="11" y="12" width="7" height="1" fill="#9cc0ec"/><rect x="19" y="12" width="2" height="1" fill="#9cc0ec"/><rect x="3" y="15" width="3" height="1" fill="#9cc0ec"/><rect x="7" y="15" width="3" height="1" fill="#9cc0ec"/><rect x="11" y="15" width="7" height="1" fill="#9cc0ec"/><rect x="19" y="15" width="2" height="1" fill="#9cc0ec"/><rect x="3" y="18" width="3" height="1" fill="#9cc0ec"/><rect x="7" y="18" width="3" height="1" fill="#9cc0ec"/><rect x="11" y="18" width="7" height="1" fill="#9cc0ec"/><rect x="19" y="18" width="2" height="1" fill="#9cc0ec"/><rect x="0" y="20" width="24" height="1" fill="#2f60a8"/></svg>
<div class="lbl" style="left:328px;top:371.0px">Top<br>Cost: 0 %</div>
<svg style="position:absolute;left:646px;top:340px;overflow:visible" width="25" height="25" viewBox="0 0 25 25"><rect x="0.5" y="0.5" width="23" height="20" fill="url(#tbody)" stroke="#7d9cc4"/><rect x="0" y="0" width="24" height="4" fill="url(#hdr)"/><rect x="3" y="6" width="3" height="1" fill="#9cc0ec"/><rect x="7" y="6" width="3" height="1" fill="#9cc0ec"/><rect x="11" y="6" width="7" height="1" fill="#9cc0ec"/><rect x="19" y="6" width="2" height="1" fill="#9cc0ec"/><rect x="3" y="9" width="3" height="1" fill="#9cc0ec"/><rect x="7" y="9" width="3" height="1" fill="#9cc0ec"/><rect x="11" y="9" width="7" height="1" fill="#9cc0ec"/><rect x="19" y="9" width="2" height="1" fill="#9cc0ec"/><rect x="3" y="12" width="3" height="1" fill="#9cc0ec"/><rect x="7" y="12" width="3" height="1" fill="#9cc0ec"/><rect x="11" y="12" width="7" height="1" fill="#9cc0ec"/><rect x="19" y="12" width="2" height="1" fill="#9cc0ec"/><rect x="3" y="15" width="3" height="1" fill="#9cc0ec"/><rect x="7" y="15" width="3" height="1" fill="#9cc0ec"/><rect x="11" y="15" width="7" height="1" fill="#9cc0ec"/><rect x="19" y="15" width="2" height="1" fill="#9cc0ec"/><rect x="3" y="18" width="3" height="1" fill="#9cc0ec"/><rect x="7" y="18" width="3" height="1" fill="#9cc0ec"/><rect x="11" y="18" width="7" height="1" fill="#9cc0ec"/><rect x="19" y="18" width="2" height="1" fill="#9cc0ec"/><rect x="15" y="13" width="10" height="12" rx="1.5" fill="#5a6c9c"/><rect x="16.5" y="14" width="7" height="2" fill="#a8c4f0"/><rect x="16.5" y="17" width="2" height="1.5" fill="#e84848"/><rect x="19" y="17" width="2" height="1.5" fill="#e84848"/><rect x="21.5" y="17" width="2" height="1.5" fill="#e84848"/><rect x="16.5" y="19.5" width="2" height="1.5" fill="#b8d0f8"/><rect x="19" y="19.5" width="2" height="1.5" fill="#b8d0f8"/><rect x="21.5" y="19.5" width="2" height="1.5" fill="#b8d0f8"/><rect x="16.5" y="22" width="2" height="1.5" fill="#b8d0f8"/><rect x="19" y="22" width="2" height="1.5" fill="#b8d0f8"/><rect x="21.5" y="22" width="2" height="1.5" fill="#b8d0f8"/></svg>
<div class="lbl" style="left:458px;top:371.0px">Compute Scalar<br>Cost: 0 %</div>
<svg style="position:absolute;left:802px;top:334px;overflow:visible" width="21" height="24" viewBox="0 0 21 24"><defs><linearGradient id="col" x1="0" y1="0" x2="1" y2="0"><stop offset="0" stop-color="#4a90e4"/><stop offset="1" stop-color="#a8d0f8"/></linearGradient></defs><rect x="0" y="0" width="8.4" height="23" fill="url(#col)"/><rect x="1.2" y="1.00" width="6.6" height="1.6" fill="#f4faff" opacity="0.9"/><rect x="1.2" y="3.80" width="6.6" height="1.6" fill="#f4faff" opacity="0.9"/><rect x="1.2" y="6.60" width="6.6" height="1.6" fill="#f4faff" opacity="0.9"/><rect x="1.2" y="9.40" width="6.6" height="1.6" fill="#f4faff" opacity="0.9"/><rect x="1.2" y="12.20" width="6.6" height="1.6" fill="#f4faff" opacity="0.9"/><rect x="1.2" y="15.00" width="6.6" height="1.6" fill="#f4faff" opacity="0.9"/><rect x="1.2" y="17.80" width="6.6" height="1.6" fill="#f4faff" opacity="0.9"/><rect x="1.2" y="20.60" width="6.6" height="1.6" fill="#f4faff" opacity="0.9"/><path d="M9.6 0.6 Q11.8 1.0 11.8 2.8 Q11.8 3.8 13.6 3.8 Q11.8 3.8 11.8 4.8 Q11.8 6.6 9.6 7.0" fill="none" stroke="#3a6ac0" stroke-width="1"/><path d="M20.5 1.2 H15 L17.8 3.9 L15 6.4 H20.5" fill="none" stroke="#1b2a6a" stroke-width="1.2"/><path d="M9.6 8.6 Q11.8 9.0 11.8 10.8 Q11.8 11.8 13.6 11.8 Q11.8 11.8 11.8 12.8 Q11.8 14.6 9.6 15.0" fill="none" stroke="#3a6ac0" stroke-width="1"/><path d="M20.5 9.2 H15 L17.8 11.9 L15 14.4 H20.5" fill="none" stroke="#1b2a6a" stroke-width="1.2"/><path d="M9.6 16.6 Q11.8 17.0 11.8 18.8 Q11.8 19.8 13.6 19.8 Q11.8 19.8 11.8 20.8 Q11.8 22.6 9.6 23.0" fill="none" stroke="#3a6ac0" stroke-width="1"/><path d="M20.5 17.2 H15 L17.8 19.9 L15 22.4 H20.5" fill="none" stroke="#1b2a6a" stroke-width="1.2"/></svg>
<div class="lbl" style="left:613px;top:364.0px">Stream Aggregate<br>(Aggregate)<br>Cost: 0 %</div>
<svg style="position:absolute;left:942px;top:342.3px;overflow:visible" width="25" height="21" viewBox="0 0 25 21"><rect x="0.5" y="0.5" width="24" height="20" fill="url(#tbody)" stroke="#4f80c0"/><rect x="0" y="0" width="25" height="4.5" fill="url(#hdr)"/><rect x="3" y="7" width="3" height="1" fill="#9cc0ec"/><rect x="7" y="7" width="3" height="1" fill="#9cc0ec"/><rect x="11" y="7" width="8" height="1" fill="#9cc0ec"/><rect x="20" y="7" width="2" height="1" fill="#9cc0ec"/><rect x="3" y="10" width="3" height="1" fill="#9cc0ec"/><rect x="7" y="10" width="3" height="1" fill="#9cc0ec"/><rect x="11" y="10" width="8" height="1" fill="#9cc0ec"/><rect x="20" y="10" width="2" height="1" fill="#9cc0ec"/><rect x="3" y="13" width="3" height="1" fill="#9cc0ec"/><rect x="7" y="13" width="3" height="1" fill="#9cc0ec"/><rect x="11" y="13" width="8" height="1" fill="#9cc0ec"/><rect x="20" y="13" width="2" height="1" fill="#9cc0ec"/><rect x="3" y="16" width="3" height="1" fill="#9cc0ec"/><rect x="7" y="16" width="3" height="1" fill="#9cc0ec"/><rect x="11" y="16" width="8" height="1" fill="#9cc0ec"/><rect x="20" y="16" width="2" height="1" fill="#9cc0ec"/><rect x="3" y="19" width="3" height="1" fill="#9cc0ec"/><rect x="7" y="19" width="3" height="1" fill="#9cc0ec"/><rect x="11" y="19" width="8" height="1" fill="#9cc0ec"/><rect x="20" y="19" width="2" height="1" fill="#9cc0ec"/><rect x="0" y="20" width="25" height="1" fill="#2f60a8"/><path d="M6.5 7.5 H18 V9.5 L13.5 13.5 V17.5 H11 V13.5 L6.5 9.5 Z" fill="#3c80d8"/><path d="M7.5 8 H17 V9 H7.5Z" fill="#8cc0f4"/></svg>
<div class="lbl" style="left:754.5px;top:371.0px">Filter<br>Cost: 0 %</div>
<svg style="position:absolute;left:1149px;top:334px;overflow:visible" width="26" height="25" viewBox="0 0 26 25"><defs><linearGradient id="arw" x1="0" y1="0" x2="1" y2="0"><stop offset="0" stop-color="#6aa6f4"/><stop offset="1" stop-color="#1c4cb8"/></linearGradient></defs><path d="M15.6 0.5 L18.6 0.5 L18.6 5 L23.2 7.5 L23.2 19.6 L25 19.6 L20.9 24.4 L16.8 19.6 L20.4 19.6 L20.4 9 L15.6 6.6 Z" fill="url(#arw)"/><rect x="10.7" y="0.7" width="4.4" height="5.3" fill="url(#boxg)" stroke="#3a78d8" stroke-width="1"/><path d="M12.8 6 V8.5 M6 11.7 V8.5 H20 V11.7 M13 8.5 V11.7" fill="none" stroke="#3a78d8" stroke-width="1"/><rect x="12" y="7.7" width="2" height="1.6" fill="#d8e040"/><rect x="3.1" y="11.7" width="5.7" height="6.4" fill="url(#boxg)" stroke="#3a78d8" stroke-width="1"/><rect x="10.2" y="11.7" width="5.7" height="6.4" fill="url(#boxg)" stroke="#3a78d8" stroke-width="1"/><rect x="17.3" y="11.7" width="5.4" height="6.4" fill="url(#boxg)" stroke="#3a78d8" stroke-width="1"/><path d="M2.3 10 Q0.6 15 2.3 19.8" fill="none" stroke="#2a4aa0" stroke-width="1"/><path d="M24.3 10 Q26 15 24.3 19.8" fill="none" stroke="#2a4aa0" stroke-width="1"/></svg>
<div class="lbl" style="left:961px;top:364.0px">Clustered Index Seek (ViewClustered)<br>[CRONUS International Ltd_$Purchase…<br>Cost: 4 %</div>
<svg style="position:absolute;left:212px;top:428.7px;overflow:visible" width="25" height="25" viewBox="0 0 25 25"><rect x="0.5" y="0.5" width="23" height="20" fill="url(#tbody)" stroke="#7d9cc4"/><rect x="0" y="0" width="24" height="4" fill="url(#hdr)"/><rect x="3" y="6" width="3" height="1" fill="#9cc0ec"/><rect x="7" y="6" width="3" height="1" fill="#9cc0ec"/><rect x="11" y="6" width="7" height="1" fill="#9cc0ec"/><rect x="19" y="6" width="2" height="1" fill="#9cc0ec"/><rect x="3" y="9" width="3" height="1" fill="#9cc0ec"/><rect x="7" y="9" width="3" height="1" fill="#9cc0ec"/><rect x="11" y="9" width="7" height="1" fill="#9cc0ec"/><rect x="19" y="9" width="2" height="1" fill="#9cc0ec"/><rect x="3" y="12" width="3" height="1" fill="#9cc0ec"/><rect x="7" y="12" width="3" height="1" fill="#9cc0ec"/><rect x="11" y="12" width="7" height="1" fill="#9cc0ec"/><rect x="19" y="12" width="2" height="1" fill="#9cc0ec"/><rect x="3" y="15" width="3" height="1" fill="#9cc0ec"/><rect x="7" y="15" width="3" height="1" fill="#9cc0ec"/><rect x="11" y="15" width="7" height="1" fill="#9cc0ec"/><rect x="19" y="15" width="2" height="1" fill="#9cc0ec"/><rect x="3" y="18" width="3" height="1" fill="#9cc0ec"/><rect x="7" y="18" width="3" height="1" fill="#9cc0ec"/><rect x="11" y="18" width="7" height="1" fill="#9cc0ec"/><rect x="19" y="18" width="2" height="1" fill="#9cc0ec"/><rect x="15" y="13" width="10" height="12" rx="1.5" fill="#5a6c9c"/><rect x="16.5" y="14" width="7" height="2" fill="#a8c4f0"/><rect x="16.5" y="17" width="2" height="1.5" fill="#e84848"/><rect x="19" y="17" width="2" height="1.5" fill="#e84848"/><rect x="21.5" y="17" width="2" height="1.5" fill="#e84848"/><rect x="16.5" y="19.5" width="2" height="1.5" fill="#b8d0f8"/><rect x="19" y="19.5" width="2" height="1.5" fill="#b8d0f8"/><rect x="21.5" y="19.5" width="2" height="1.5" fill="#b8d0f8"/><rect x="16.5" y="22" width="2" height="1.5" fill="#b8d0f8"/><rect x="19" y="22" width="2" height="1.5" fill="#b8d0f8"/><rect x="21.5" y="22" width="2" height="1.5" fill="#b8d0f8"/></svg>
<svg style="position:absolute;left:344px;top:431px;overflow:visible" width="24" height="21" viewBox="0 0 24 21"><rect x="0.5" y="0.5" width="23" height="20" fill="url(#tbody)" stroke="#4f80c0"/><rect x="0" y="0" width="24" height="4.5" fill="url(#hdr)"/><rect x="1" y="4.5" width="22" height="6" fill="#eee41a"/><rect x="1" y="5" width="22" height="1" fill="#f8f4a8"/><rect x="1" y="9" width="22" height="1" fill="#f8f4a8"/><rect x="3" y="6" width="3" height="1" fill="#d8c800"/><rect x="7" y="6" width="3" height="1" fill="#d8c800"/><rect x="11" y="6" width="8" height="1" fill="#d8c800"/><rect x="3" y="8" width="3" height="1" fill="#c8b800"/><rect x="7" y="8" width="3" height="1" fill="#c8b800"/><rect x="11" y="8" width="8" height="1" fill="#c8b800"/><rect x="3" y="12" width="3" height="1" fill="#9cc0ec"/><rect x="7" y="12" width="3" height="1" fill="#9cc0ec"/><rect x="11" y="12" width="7" height="1" fill="#9cc0ec"/><rect x="19" y="12" width="2" height="1" fill="#9cc0ec"/><rect x="3" y="15" width="3" height="1" fill="#9cc0ec"/><rect x="7" y="15" width="3" height="1" fill="#9cc0ec"/><rect x="11" y="15" width="7" height="1" fill="#9cc0ec"/><rect x="19" y="15" width="2" height="1" fill="#9cc0ec"/><rect x="3" y="18" width="3" height="1" fill="#9cc0ec"/><rect x="7" y="18" width="3" height="1" fill="#9cc0ec"/><rect x="11" y="18" width="7" height="1" fill="#9cc0ec"/><rect x="19" y="18" width="2" height="1" fill="#9cc0ec"/><rect x="0" y="20" width="24" height="1" fill="#2f60a8"/></svg>
<svg style="position:absolute;left:474px;top:428.7px;overflow:visible" width="25" height="25" viewBox="0 0 25 25"><rect x="0.5" y="0.5" width="23" height="20" fill="url(#tbody)" stroke="#7d9cc4"/><rect x="0" y="0" width="24" height="4" fill="url(#hdr)"/><rect x="3" y="6" width="3" height="1" fill="#9cc0ec"/><rect x="7" y="6" width="3" height="1" fill="#9cc0ec"/><rect x="11" y="6" width="7" height="1" fill="#9cc0ec"/><rect x="19" y="6" width="2" height="1" fill="#9cc0ec"/><rect x="3" y="9" width="3" height="1" fill="#9cc0ec"/><rect x="7" y="9" width="3" height="1" fill="#9cc0ec"/><rect x="11" y="9" width="7" height="1" fill="#9cc0ec"/><rect x="19" y="9" width="2" height="1" fill="#9cc0ec"/><rect x="3" y="12" width="3" height="1" fill="#9cc0ec"/><rect x="7" y="12" width="3" height="1" fill="#9cc0ec"/><rect x="11" y="12" width="7" height="1" fill="#9cc0ec"/><rect x="19" y="12" width="2" height="1" fill="#9cc0ec"/><rect x="3" y="15" width="3" height="1" fill="#9cc0ec"/><rect x="7" y="15" width="3" height="1" fill="#9cc0ec"/><rect x="11" y="15" width="7" height="1" fill="#9cc0ec"/><rect x="19" y="15" width="2" height="1" fill="#9cc0ec"/><rect x="3" y="18" width="3" height="1" fill="#9cc0ec"/><rect x="7" y="18" width="3" height="1" fill="#9cc0ec"/><rect x="11" y="18" width="7" height="1" fill="#9cc0ec"/><rect x="19" y="18" width="2" height="1" fill="#9cc0ec"/><rect x="15" y="13" width="10" height="12" rx="1.5" fill="#5a6c9c"/><rect x="16.5" y="14" width="7" height="2" fill="#a8c4f0"/><rect x="16.5" y="17" width="2" height="1.5" fill="#e84848"/><rect x="19" y="17" width="2" height="1.5" fill="#e84848"/><rect x="21.5" y="17" width="2" height="1.5" fill="#e84848"/><rect x="16.5" y="19.5" width="2" height="1.5" fill="#b8d0f8"/><rect x="19" y="19.5" width="2" height="1.5" fill="#b8d0f8"/><rect x="21.5" y="19.5" width="2" height="1.5" fill="#b8d0f8"/><rect x="16.5" y="22" width="2" height="1.5" fill="#b8d0f8"/><rect x="19" y="22" width="2" height="1.5" fill="#b8d0f8"/><rect x="21.5" y="22" width="2" height="1.5" fill="#b8d0f8"/></svg>
<svg style="position:absolute;left:630px;top:423px;overflow:visible" width="21" height="24" viewBox="0 0 21 24"><defs><linearGradient id="col" x1="0" y1="0" x2="1" y2="0"><stop offset="0" stop-color="#4a90e4"/><stop offset="1" stop-color="#a8d0f8"/></linearGradient></defs><rect x="0" y="0" width="8.4" height="23" fill="url(#col)"/><rect x="1.2" y="1.00" width="6.6" height="1.6" fill="#f4faff" opacity="0.9"/><rect x="1.2" y="3.80" width="6.6" height="1.6" fill="#f4faff" opacity="0.9"/><rect x="1.2" y="6.60" width="6.6" height="1.6" fill="#f4faff" opacity="0.9"/><rect x="1.2" y="9.40" width="6.6" height="1.6" fill="#f4faff" opacity="0.9"/><rect x="1.2" y="12.20" width="6.6" height="1.6" fill="#f4faff" opacity="0.9"/><rect x="1.2" y="15.00" width="6.6" height="1.6" fill="#f4faff" opacity="0.9"/><rect x="1.2" y="17.80" width="6.6" height="1.6" fill="#f4faff" opacity="0.9"/><rect x="1.2" y="20.60" width="6.6" height="1.6" fill="#f4faff" opacity="0.9"/><path d="M9.6 0.6 Q11.8 1.0 11.8 2.8 Q11.8 3.8 13.6 3.8 Q11.8 3.8 11.8 4.8 Q11.8 6.6 9.6 7.0" fill="none" stroke="#3a6ac0" stroke-width="1"/><path d="M20.5 1.2 H15 L17.8 3.9 L15 6.4 H20.5" fill="none" stroke="#1b2a6a" stroke-width="1.2"/><path d="M9.6 8.6 Q11.8 9.0 11.8 10.8 Q11.8 11.8 13.6 11.8 Q11.8 11.8 11.8 12.8 Q11.8 14.6 9.6 15.0" fill="none" stroke="#3a6ac0" stroke-width="1"/><path d="M20.5 9.2 H15 L17.8 11.9 L15 14.4 H20.5" fill="none" stroke="#1b2a6a" stroke-width="1.2"/><path d="M9.6 16.6 Q11.8 17.0 11.8 18.8 Q11.8 19.8 13.6 19.8 Q11.8 19.8 11.8 20.8 Q11.8 22.6 9.6 23.0" fill="none" stroke="#3a6ac0" stroke-width="1"/><path d="M20.5 17.2 H15 L17.8 19.9 L15 22.4 H20.5" fill="none" stroke="#1b2a6a" stroke-width="1.2"/></svg>
<svg style="position:absolute;left:765px;top:431px;overflow:visible" width="25" height="21" viewBox="0 0 25 21"><rect x="0.5" y="0.5" width="24" height="20" fill="url(#tbody)" stroke="#4f80c0"/><rect x="0" y="0" width="25" height="4.5" fill="url(#hdr)"/><rect x="3" y="7" width="3" height="1" fill="#9cc0ec"/><rect x="7" y="7" width="3" height="1" fill="#9cc0ec"/><rect x="11" y="7" width="8" height="1" fill="#9cc0ec"/><rect x="20" y="7" width="2" height="1" fill="#9cc0ec"/><rect x="3" y="10" width="3" height="1" fill="#9cc0ec"/><rect x="7" y="10" width="3" height="1" fill="#9cc0ec"/><rect x="11" y="10" width="8" height="1" fill="#9cc0ec"/><rect x="20" y="10" width="2" height="1" fill="#9cc0ec"/><rect x="3" y="13" width="3" height="1" fill="#9cc0ec"/><rect x="7" y="13" width="3" height="1" fill="#9cc0ec"/><rect x="11" y="13" width="8" height="1" fill="#9cc0ec"/><rect x="20" y="13" width="2" height="1" fill="#9cc0ec"/><rect x="3" y="16" width="3" height="1" fill="#9cc0ec"/><rect x="7" y="16" width="3" height="1" fill="#9cc0ec"/><rect x="11" y="16" width="8" height="1" fill="#9cc0ec"/><rect x="20" y="16" width="2" height="1" fill="#9cc0ec"/><rect x="3" y="19" width="3" height="1" fill="#9cc0ec"/><rect x="7" y="19" width="3" height="1" fill="#9cc0ec"/><rect x="11" y="19" width="8" height="1" fill="#9cc0ec"/><rect x="20" y="19" width="2" height="1" fill="#9cc0ec"/><rect x="0" y="20" width="25" height="1" fill="#2f60a8"/><path d="M6.5 7.5 H18 V9.5 L13.5 13.5 V17.5 H11 V13.5 L6.5 9.5 Z" fill="#3c80d8"/><path d="M7.5 8 H17 V9 H7.5Z" fill="#8cc0f4"/></svg>
<svg style="position:absolute;left:971px;top:423px;overflow:visible" width="26" height="26" viewBox="0 0 26 26"><defs><linearGradient id="arw2" x1="0" y1="0" x2="1" y2="0"><stop offset="0" stop-color="#5a96ec"/><stop offset="1" stop-color="#2050c0"/></linearGradient></defs><rect x="0" y="0" width="2.9" height="22.6" fill="url(#arw2)"/><path d="M0 18.7 H18.5 V16.5 L23.7 20.6 L18.5 24.8 V22.6 H0Z" fill="url(#arw2)"/><rect x="9.5" y="0.5" width="5" height="4.5" fill="url(#boxg)" stroke="#3a78d8" stroke-width="1"/><path d="M12 5 V8 M5 11.1 V8 H19 V11.1 M12 8 V11.1" fill="none" stroke="#3a78d8" stroke-width="1"/><rect x="11" y="7.4" width="2" height="1.6" fill="#d8e040"/><rect x="2.7" y="11.1" width="5.4" height="6" fill="url(#boxg)" stroke="#3a78d8" stroke-width="1"/><rect x="9.6" y="11.1" width="5.4" height="6" fill="url(#boxg)" stroke="#3a78d8" stroke-width="1"/><rect x="16.5" y="11.1" width="5.4" height="6" fill="url(#boxg)" stroke="#3a78d8" stroke-width="1"/><path d="M23.4 10 Q25 14.5 23.4 19" fill="none" stroke="#2a4aa0" stroke-width="1"/></svg>
</div></div>
<div class="trk" style="left:1340px;top:64px;width:16px;height:388px"></div>
<div class="btn" style="left:1340px;top:64px;width:16px;height:16px"></div>
<div class="btn" style="left:1340px;top:80px;width:16px;height:97px"></div>
<div class="btn" style="left:1340px;top:436px;width:16px;height:16px"></div>
<svg style="position:absolute;left:1344px;top:69px;overflow:visible" width="8" height="5" viewBox="0 0 8 5"><path d="M0 4.5 L4 0.5 L8 4.5Z" fill="#000"/></svg>
<svg style="position:absolute;left:1344px;top:442px;overflow:visible" width="8" height="5" viewBox="0 0 8 5"><path d="M0 0.5 L4 4.5 L8 0.5Z" fill="#000"/></svg>
<div class="trk" style="left:3px;top:452px;width:1337px;height:16px"></div>
<div class="btn" style="left:3px;top:452px;width:16px;height:16px"></div>
<div class="btn" style="left:843px;top:452px;width:481px;height:16px"></div>
<div class="btn" style="left:1323px;top:452px;width:17px;height:16px"></div>
<div class="btn" style="left:1340px;top:452px;width:16px;height:16px"></div>
<svg style="position:absolute;left:8px;top:456px;overflow:visible" width="5" height="8" viewBox="0 0 5 8"><path d="M4.5 0 L0.5 4 L4.5 8Z" fill="#000"/></svg>
<svg style="position:absolute;left:1329px;top:456px;overflow:visible" width="5" height="8" viewBox="0 0 5 8"><path d="M0.5 0 L4.5 4 L0.5 8Z" fill="#000"/></svg>
<svg style="position:absolute;left:1345px;top:457px;overflow:visible" width="5" height="5" viewBox="0 0 5 5"><path d="M2.5 0 V5 M0 2.5 H5" stroke="#000" stroke-width="1.5"/></svg>
<div style="position:absolute;left:1340px;top:468px;width:18px;height:2px;background:#D4D0C8"></div>
</body></html>
